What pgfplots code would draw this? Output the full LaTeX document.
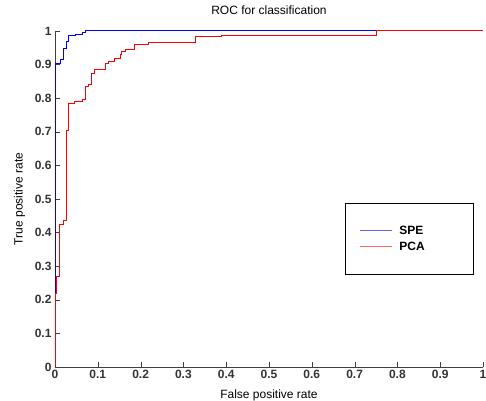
\documentclass[border=0pt]{standalone}
\usepackage{fontspec}
\setmainfont{Liberation Sans}
\usepackage{pgfplots}
\pgfplotsset{compat=1.18}

\begin{document}
\begin{tikzpicture}
  \begin{axis}[
    scale only axis,
    width=428bp, height=336bp,
    xmin=0, xmax=1, ymin=0, ymax=1,
    axis x line*=bottom, axis y line*=left,
    axis line style={black!75},
    xtick={0,0.1,0.2,0.3,0.4,0.5,0.6,0.7,0.8,0.9,1},
    ytick={0,0.1,0.2,0.3,0.4,0.5,0.6,0.7,0.8,0.9,1},
    tick align=inside,
    major tick length=5bp,
    tick style={black!75},
    ticklabel style={font=\fontsize{12bp}{14bp}\selectfont\bfseries, text=black!80},
    /pgf/number format/assume math mode=true,
    title={ROC for classification},
    title style={font=\fontsize{12bp}{14bp}\selectfont, at={(axis description cs:0.5,1.0327)}, anchor=base},
    xlabel={False positive rate},
    xlabel style={font=\fontsize{12bp}{14bp}\selectfont, at={(axis description cs:0.5,-0.0952)}, anchor=base},
    ylabel={True positive rate},
    ylabel style={font=\fontsize{12bp}{14bp}\selectfont, at={(axis description cs:-0.0755,0.5)}, anchor=base},
    legend image code/.code={\draw[#1, opacity=0.6] (0bp,0bp) -- (32bp,0bp);},
    legend style={at={(axis description cs:0.678,0.489)}, anchor=north west,
      draw=black, inner xsep=14bp, inner ysep=20bp,
      font=\fontsize{12bp}{14bp}\selectfont\bfseries,
      nodes={inner sep=3bp}},
    legend cell align=left,
  ]
    \addplot[blue, line width=1bp, const plot mark left] coordinates {
      (0,0) (0,0.904) (0.012,0.916) (0.020,0.948) (0.026,0.968)
      (0.031,0.986) (0.047,0.990) (0.065,0.996) (0.071,1) (1,1)
    };
    \addlegendentry{\makebox[61bp][l]{\hspace{4bp}SPE}}
    \addplot[red, line width=1bp, const plot mark left] coordinates {
      (0,0) (0,0.22) (0.004,0.269) (0.010,0.423) (0.019,0.437)
      (0.027,0.705) (0.031,0.783) (0.045,0.790) (0.065,0.797)
      (0.071,0.836) (0.079,0.842) (0.086,0.874) (0.092,0.884)
      (0.119,0.904) (0.125,0.910) (0.138,0.917) (0.152,0.929)
      (0.156,0.938) (0.164,0.946) (0.186,0.960) (0.218,0.966)
      (0.329,0.983) (0.390,0.988) (0.752,1) (1,1)
    };
    \addlegendentry{\makebox[61bp][l]{\hspace{4bp}PCA}}
  \end{axis}
  \pgfresetboundingbox
  \path[use as bounding box] ([shift={(-55bp,-34bp)}]current axis.south west)
    rectangle ([shift={(3bp,31bp)}]current axis.north east);
\end{tikzpicture}
\end{document}
